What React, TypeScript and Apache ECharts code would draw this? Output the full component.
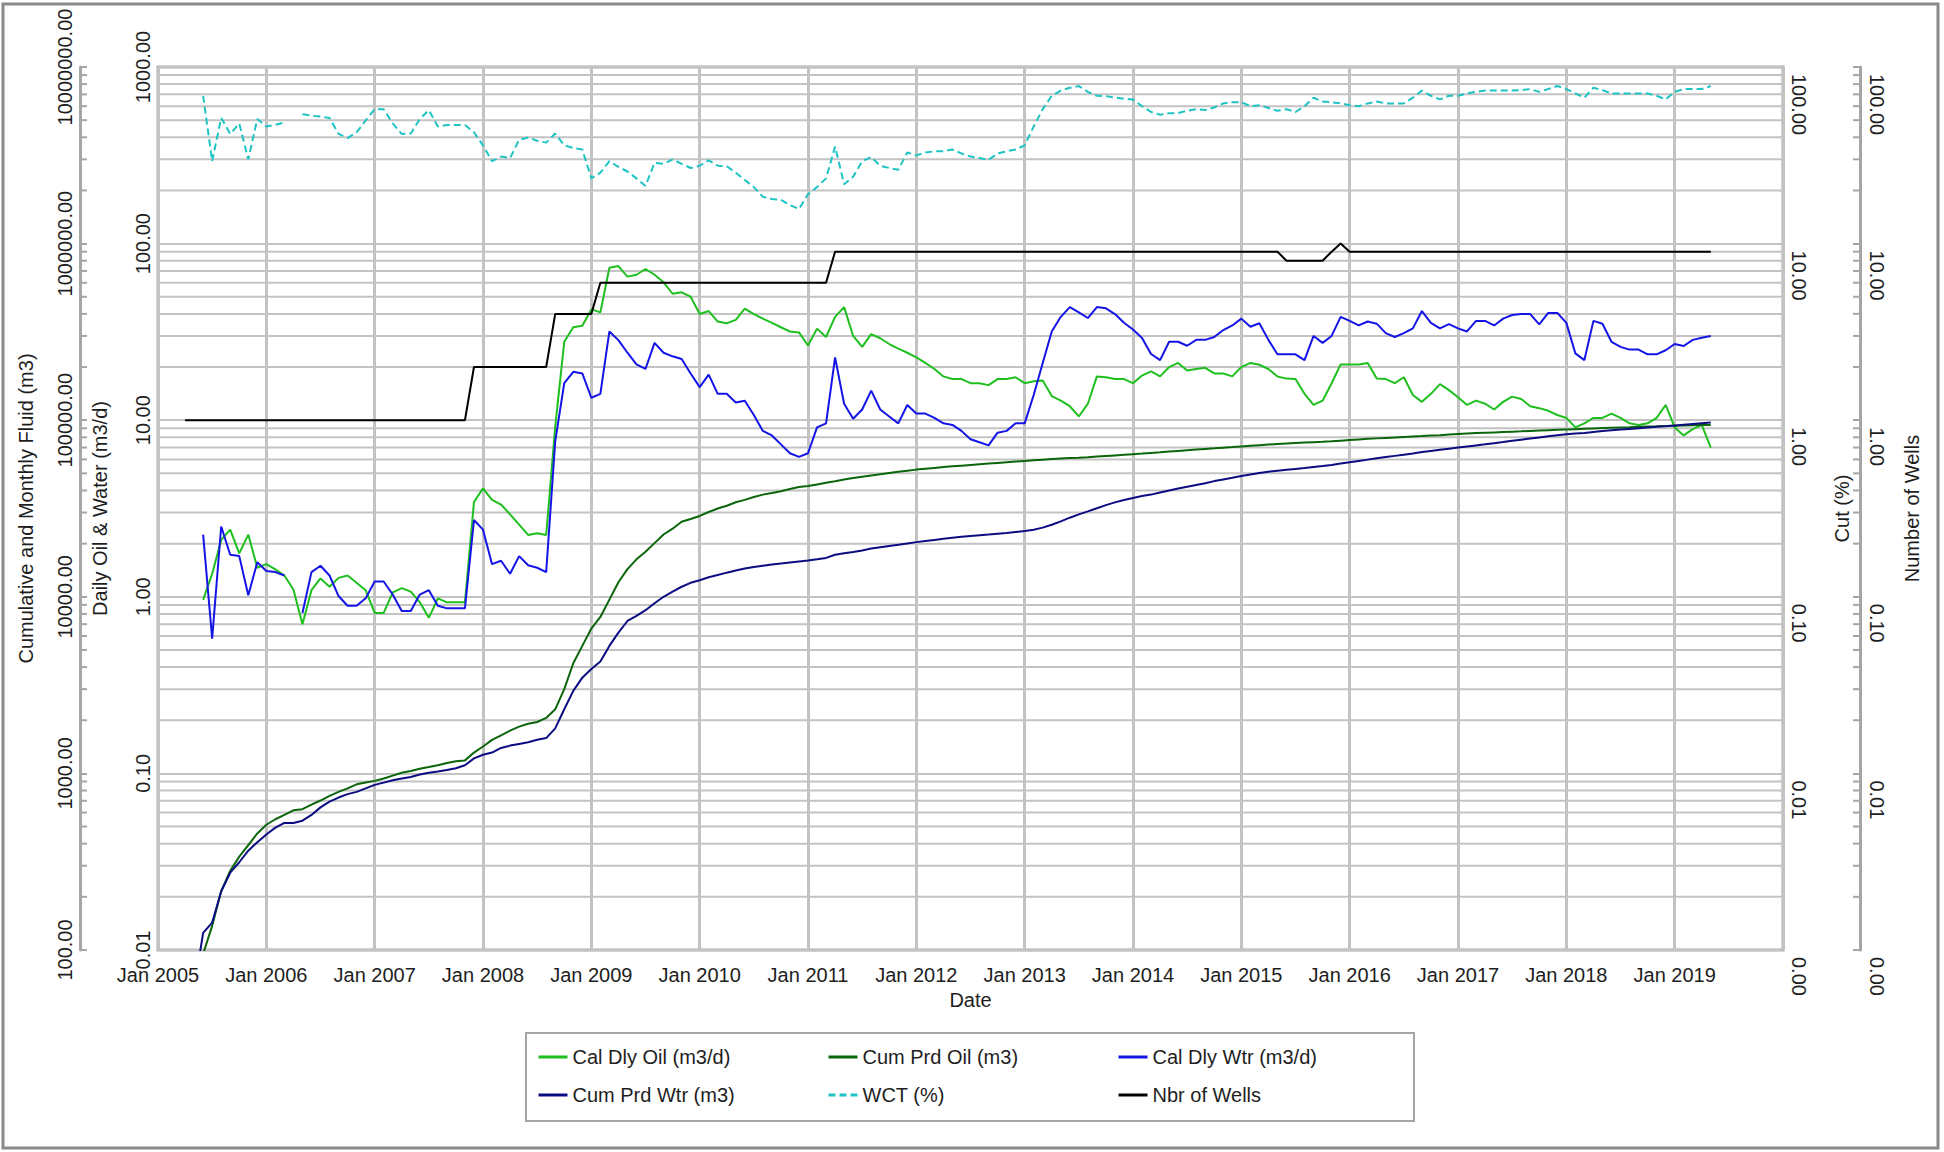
import React, { useEffect, useRef } from "react";
import * as echarts from "echarts";

// ---------- time base ----------
const BASE_YEAR = 2005; // x axis starts Jan 2005
const FIRST_MONTH = 4; // first monthly sample: May 2005 (months after Jan 2005)
const X_MIN = 2005;
const X_MAX = 2020;

// ---------- monthly data (May 2005 .. May 2019) ----------
const calDlyOil: (number | null)[] = [
  null, 0.96, 1.35, 2.1, 2.4, 1.76, 2.25, 1.46,
  1.53, 1.43, 1.32, 1.10, 0.70, 1.09, 1.27, 1.14, 1.28, 1.32, 1.20, 1.09,
  0.81, 0.81, 1.06, 1.12, 1.07, 0.93, 0.76, 0.98, 0.93, 0.93, 0.93, 3.44,
  4.11, 3.54, 3.33, 2.93, 2.56, 2.24, 2.29, 2.24, 9.2, 27.8, 33.6, 34.3,
  42.4, 40.8, 73, 74.6, 65, 66.6, 71.8, 66.6, 60.4, 52, 53, 50,
  39.9, 41.5, 36.2, 35.4, 37, 42.8, 39.9, 37.6, 35.6, 33.6, 31.8, 31.4,
  26.5, 33, 29.6, 38.5, 43.7, 30, 26, 30.7, 29.1, 27, 25.4, 24.1,
  22.7, 21.1, 19.5, 17.7, 17.1, 17.1, 16.2, 16.2, 15.8, 17.1, 17.1, 17.5,
  16.2, 16.6, 16.8, 13.7, 12.9, 12, 10.5, 12.4, 17.7, 17.5, 17.1, 17.1,
  16.2, 17.9, 18.9, 17.7, 20, 21.1, 19.1, 19.5, 19.8, 18.4, 18.4, 17.7,
  20, 21.1, 20.6, 19.5, 17.7, 17.2, 17.1, 14.1, 12.2, 12.9, 16.2, 20.7,
  20.7, 20.7, 21.1, 17.2, 17.1, 16.2, 17.5, 13.9, 12.7, 14.1, 16, 14.8,
  13.5, 12.2, 12.9, 12.4, 11.5, 12.7, 13.6, 13.2, 12, 11.7, 11.3, 10.7,
  10.3, 9.1, 9.6, 10.3, 10.3, 10.9, 10.3, 9.6, 9.4, 9.6, 10.3, 12.2,
  9.1, 8.2, 8.9, 9.4, 7,
];

const calDlyWtr: (number | null)[] = [
  null, 2.25, 0.58, 2.5, 1.73, 1.70, 1.02, 1.57,
  1.40, 1.38, 1.32, null, 0.81, 1.38, 1.50, 1.32, 1.01, 0.89, 0.89, 0.98,
  1.22, 1.22, 1.03, 0.83, 0.83, 1.03, 1.09, 0.89, 0.86, 0.86, 0.86, 2.72,
  2.4, 1.53, 1.6, 1.35, 1.7, 1.51, 1.46, 1.38, 7.6, 16.2, 18.8, 18.4,
  13.4, 14.1, 31.8, 28.4, 24.1, 20.7, 19.5, 27.4, 24.1, 23, 22.2, 18.4,
  15.4, 18.1, 14.1, 14.1, 12.6, 12.9, 10.7, 8.7, 8.2, 7.3, 6.5, 6.2,
  6.5, 9.1, 9.6, 22.7, 12.4, 10.2, 11.5, 14.7, 11.5, 10.5, 9.6, 12.2,
  10.9, 10.9, 10.3, 9.6, 9.4, 8.7, 7.8, 7.5, 7.2, 8.5, 8.7, 9.6,
  9.6, 13.9, 21.1, 31.8, 38.5, 43.7, 40.8, 37.9, 43.7, 43, 39.9, 35.6,
  32.6, 29.2, 23.7, 21.9, 27.8, 27.8, 26.4, 28.5, 28.5, 29.6, 32.4, 34.4,
  37.6, 33.8, 35.4, 28.5, 23.6, 23.6, 23.6, 21.9, 30, 27.4, 30, 38.5,
  36.5, 34.4, 36.2, 35.2, 31.1, 29.6, 31.1, 33.1, 41.5, 35.6, 33.1, 35,
  33.1, 31.8, 36.5, 36.5, 34.4, 37.6, 39.4, 39.9, 39.9, 34.9, 40.5, 40.5,
  35.6, 23.9, 21.9, 36.5, 35.2, 27.8, 26, 25.1, 25.1, 23.6, 23.6, 24.9,
  27, 26.3, 28.5, 29.3, 30,
];

const wct: (number | null)[] = [
  null, 68.7, 29.3, 51.5, 41.8, 47.9, 30, 50.8,
  46, 47, 48.5, null, 54, 53, 52.4, 51.5, 41.8, 39.6, 42.7, 49.7,
  57.7, 57.7, 47.9, 41.8, 42, 50.8, 57, 46, 47, 47, 47, 42.7,
  36, 29.3, 31.1, 30.5, 38.7, 39.9, 38.2, 37.3, 42, 36, 34.8, 34.1,
  23.4, 25.2, 29.3, 27.2, 25.6, 23.4, 21.2, 28.7, 28.3, 30, 28.3, 26.8,
  27.6, 29.6, 27.6, 27.4, 25.2, 22.9, 20.9, 18.4, 17.9, 17.7, 16.5, 15.7,
  19, 20.9, 23.4, 35.4, 21.7, 23.9, 29.3, 30.9, 27.6, 26.8, 26.2, 32.8,
  31.6, 32.8, 33.3, 33.3, 34.1, 32.4, 31.1, 30.5, 29.8, 32.4, 33.3, 34.1,
  36, 46, 57.7, 68.7, 73.5, 76.3, 78, 72.3, 68.7, 68.4, 67.1, 66.1,
  65.4, 60, 55.6, 53.7, 54.8, 54.8, 56.5, 57.7, 57, 59, 62.2, 63.2,
  63.2, 60, 60.8, 58.6, 56.5, 57.7, 55.6, 60, 67.1, 63.7, 63.2, 62.2,
  60.8, 60, 62.2, 63.7, 62.2, 62.2, 62.2, 67.1, 73.5, 68.7, 65.6, 68.7,
  68.7, 70.8, 72.3, 73.5, 73.5, 73.5, 73.5, 74, 75, 72.3, 75, 78,
  75, 70.8, 67.1, 76.3, 74, 70.8, 70.8, 70.8, 70.8, 70.8, 68.7, 65.6,
  72.3, 75, 75, 75, 78,
];

const cumPrdOil: (number | null)[] = [
  null, 95, 137, 215, 281, 338, 393, 457,
  512, 550, 582, 618, 627, 666, 702, 746, 786, 822, 867, 887,
  907, 935, 971, 1008, 1031, 1062, 1086, 1111, 1145, 1172, 1185, 1312,
  1420, 1549, 1644, 1746, 1841, 1910, 1955, 2061, 2307, 3000, 4207, 5272,
  6607, 7691, 9634, 12080, 14350, 16300, 17990, 20140, 22540, 24300, 26600, 27600,
  28700, 30200, 31600, 32800, 34300, 35400, 36700, 37900, 38700, 39600, 40800, 41800,
  42400, 43300, 44200, 45100, 46100, 47000, 47800, 48600, 49400, 50200, 51000, 51800,
  52500, 53100, 53700, 54300, 54800, 55300, 55800, 56300, 56800, 57300, 57800, 58300,
  58800, 59300, 59800, 60200, 60600, 61000, 61300, 61700, 62200, 62700, 63200, 63700,
  64200, 64700, 65300, 65800, 66400, 67000, 67600, 68200, 68800, 69300, 69900, 70400,
  71000, 71600, 72200, 72800, 73300, 73800, 74300, 74700, 75100, 75500, 76000, 76600,
  77200, 77800, 78400, 78900, 79400, 79900, 80400, 80900, 81300, 81800, 82300, 82900,
  83500, 84000, 84500, 84900, 85300, 85700, 86100, 86500, 87000, 87400, 87800, 88200,
  88600, 89000, 89400, 89800, 90200, 90600, 91000, 91300, 91700, 92000, 92300, 92700,
  93000, 93300, 93500, 93800, 94000,
];

const cumPrdWtr: (number | null)[] = [
  60, 125, 143, 215, 274, 314, 365, 408,
  451, 493, 524, 524, 540, 582, 642, 692, 730, 763, 786, 822,
  861, 887, 914, 935, 955, 985, 1008, 1024, 1046, 1070, 1111, 1216,
  1275, 1312, 1393, 1437, 1469, 1501, 1549, 1585, 1799, 2307, 2931, 3484,
  3905, 4306, 5272, 6266, 7295, 7800, 8400, 9200, 10000, 10700, 11400, 12000,
  12400, 12900, 13300, 13700, 14100, 14450, 14750, 15000, 15250, 15450, 15650, 15850,
  16050, 16300, 16600, 17300, 17650, 17950, 18300, 18750, 19100, 19400, 19700, 20050,
  20400, 20700, 21000, 21300, 21600, 21850, 22100, 22300, 22500, 22750, 23000, 23300,
  23600, 24000, 24650, 25600, 26750, 28050, 29300, 30450, 31750, 33050, 34250, 35300,
  36300, 37200, 37900, 39000, 40000, 41000, 42000, 43000, 44000, 45200, 46200, 47200,
  48300, 49300, 50300, 51100, 51800, 52400, 53000, 53600, 54300, 55000, 55800, 56800,
  57800, 58800, 59800, 60800, 61800, 62800, 63800, 64800, 66000, 67000, 68000, 69000,
  70000, 71000, 72000, 73000, 74100, 75200, 76400, 77600, 78800, 79900, 81000, 82100,
  83200, 84000, 84700, 85800, 86800, 87700, 88500, 89300, 90100, 90900, 91700, 92500,
  93400, 94300, 95200, 96100, 97000,
];

// Number of wells: change points (months after Jan 2005, count)
const wellMonths = [3, 34, 35, 43, 44, 48, 49, 74, 75, 124, 125, 129, 130, 131, 132, 172];
const wellCounts = [1, 1, 2, 2, 4, 4, 6, 6, 9, 9, 8, 8, 9, 10, 9, 9];

// ---------- axes ----------
const DAILY_RANGE = [0.01, 1000];
const CUM_RANGE = [100, 10000000];
const CUT_RANGE = [0.001, 100];
const WELL_RANGE = [0.001, 100];
const MINOR_DECADES = [0.01, 0.1, 1, 10, 100];
const MINOR_MULTS = [2, 3, 4, 5, 6, 7, 8, 9];

const NAMES = {
  oil: "Cal Dly Oil (m3/d)",
  cumOil: "Cum Prd Oil (m3)",
  wtr: "Cal Dly Wtr (m3/d)",
  cumWtr: "Cum Prd Wtr (m3)",
  wct: "WCT (%)",
  wells: "Nbr of Wells",
};

const FONT = "'Liberation Sans', Arial, Helvetica, sans-serif";
const TXT = "#1e1e1e";
const GRID_C = "#c3c3c3";
const AXIS_C = "#a6a6a6";

const GRID_LEFT = 158;
const GRID_TOP = 67;
const GRID_W = 1625;
const GRID_H = 883;
const CUM_OFFSET = 78;
const WELL_OFFSET = 77;

const monthX = (m: number) => BASE_YEAR + m / 12;
const toPairs = (arr: (number | null)[]) =>
  arr.map((v, i) => [monthX(FIRST_MONTH + i), v]);

export default function App() {
  const ref = useRef<HTMLDivElement>(null);

  useEffect(() => {
    if (!ref.current) return;
    const chart = echarts.init(ref.current, undefined, { renderer: "svg" });

    const minorValues: number[] = [];
    MINOR_DECADES.forEach((d) => MINOR_MULTS.forEach((k) => minorValues.push(+(k * d).toPrecision(6))));

    const fmt = (v: number) => Number(v).toFixed(2);
    const labelBase = { fontFamily: FONT, fontSize: 20, color: TXT };
    const nameBase = { fontFamily: FONT, fontSize: 20, color: TXT };

    const lineSeries = (name: string, data: any[], yAxisIndex: number, color: string, extra: any = {}) => ({
      name,
      type: "line",
      data,
      yAxisIndex,
      xAxisIndex: 0,
      symbol: "none",
      showSymbol: false,
      connectNulls: false,
      clip: true,
      z: 5,
      lineStyle: { color, width: 2, ...(extra.lineStyle || {}) },
      itemStyle: { color },
    });

    const legendPos = [
      { name: NAMES.oil, left: 537, top: 1047 },
      { name: NAMES.cumOil, left: 827, top: 1047 },
      { name: NAMES.wtr, left: 1117, top: 1047 },
      { name: NAMES.cumWtr, left: 537, top: 1085 },
      { name: NAMES.wct, left: 827, top: 1085 },
      { name: NAMES.wells, left: 1117, top: 1085 },
    ];

    const option: any = {
      animation: false,
      backgroundColor: "#ffffff",
      textStyle: { fontFamily: FONT },
      grid: {
        left: GRID_LEFT,
        top: GRID_TOP,
        width: GRID_W,
        height: GRID_H,
        show: true,
        borderColor: AXIS_C,
        borderWidth: 3,
        backgroundColor: "transparent",
      },
      legend: legendPos.map((l) => ({
        data: [l.name],
        left: l.left,
        top: l.top,
        padding: 0,
        itemWidth: 29,
        itemHeight: 14,
        itemGap: 0,
        selectedMode: false,
        textStyle: { ...labelBase },
        lineStyle: { width: 3 },
        itemStyle: { opacity: 0 },
      })),
      xAxis: {
        type: "value",
        min: X_MIN,
        max: X_MAX,
        interval: 1,
        name: "Date",
        nameLocation: "middle",
        nameGap: 38,
        nameTextStyle: nameBase,
        axisLine: { show: false },
        axisTick: { show: false },
        axisLabel: {
          ...labelBase,
          margin: 15,
          showMaxLabel: false,
          formatter: (v: number) => (v >= X_MAX ? "" : "Jan " + Math.round(v)),
        },
        splitLine: { show: true, lineStyle: { color: GRID_C, width: 3 } },
      },
      yAxis: [
        {
          type: "log",
          logBase: 10,
          min: DAILY_RANGE[0],
          max: DAILY_RANGE[1],
          position: "left",
          name: "Daily Oil & Water (m3/d)",
          nameLocation: "middle",
          nameGap: 48,
          nameTextStyle: nameBase,
          axisLine: { show: false },
          axisTick: { show: false },
          axisLabel: { ...labelBase, rotate: 90, margin: 5, formatter: fmt },
          splitLine: { show: true, lineStyle: { color: GRID_C, width: 2 } },
        },
        {
          type: "log",
          logBase: 10,
          min: CUM_RANGE[0],
          max: CUM_RANGE[1],
          position: "left",
          offset: CUM_OFFSET,
          name: "Cumulative and Monthly Fluid (m3)",
          nameLocation: "middle",
          nameGap: 44,
          nameTextStyle: nameBase,
          axisLine: { show: true, lineStyle: { color: AXIS_C, width: 3 } },
          axisTick: { show: true, inside: true, length: 7, lineStyle: { color: AXIS_C, width: 2 } },
          axisLabel: { ...labelBase, rotate: 90, margin: 5, formatter: fmt },
          splitLine: { show: false },
        },
        {
          type: "log",
          logBase: 10,
          min: CUT_RANGE[0],
          max: CUT_RANGE[1],
          position: "right",
          name: "Cut (%)",
          nameLocation: "middle",
          nameGap: 49,
          nameTextStyle: nameBase,
          axisLine: { show: false },
          axisTick: { show: false },
          axisLabel: {
            ...labelBase,
            rotate: -90,
            margin: 16,
            align: "left",
            verticalAlign: "middle",
            padding: [0, 0, 0, 7],
            formatter: fmt,
          },
          splitLine: { show: false },
        },
        {
          type: "log",
          logBase: 10,
          min: WELL_RANGE[0],
          max: WELL_RANGE[1],
          position: "right",
          offset: WELL_OFFSET,
          name: "Number of Wells",
          nameLocation: "middle",
          nameGap: 42,
          nameTextStyle: nameBase,
          axisLine: { show: true, lineStyle: { color: AXIS_C, width: 3 } },
          axisTick: { show: true, inside: true, length: 7, lineStyle: { color: AXIS_C, width: 2 } },
          axisLabel: {
            ...labelBase,
            rotate: -90,
            margin: 17,
            align: "left",
            verticalAlign: "middle",
            padding: [0, 0, 0, 7],
            formatter: fmt,
          },
          splitLine: { show: false },
        },
      ],
      graphic: [
        {
          type: "rect",
          shape: { x: 3, y: 4, width: 1935, height: 1144 },
          style: { fill: "none", stroke: "#8a8a8a", lineWidth: 3 },
          silent: true,
          z: 0,
        },
        {
          type: "rect",
          shape: { x: 526, y: 1033, width: 888, height: 88 },
          style: { fill: "none", stroke: "#a6a6a6", lineWidth: 2 },
          silent: true,
          z: 0,
        },
      ],
      series: [
        {
          type: "custom",
          name: "minor-grid",
          xAxisIndex: 0,
          yAxisIndex: 0,
          silent: true,
          clip: false,
          z: 1,
          data: minorValues.map((v) => [X_MIN, v]),
          renderItem: (params: any, api: any) => {
            const v = api.value(1);
            const y = api.coord([X_MIN, v])[1];
            const cs = params.coordSys;
            const cumX = cs.x - CUM_OFFSET;
            const wellX = cs.x + cs.width + WELL_OFFSET;
            return {
              type: "group",
              children: [
                {
                  type: "line",
                  shape: { x1: cs.x, y1: y, x2: cs.x + cs.width, y2: y },
                  style: { stroke: GRID_C, lineWidth: 2 },
                },
                {
                  type: "line",
                  shape: { x1: cumX, y1: y, x2: cumX + 7, y2: y },
                  style: { stroke: AXIS_C, lineWidth: 2 },
                },
                {
                  type: "line",
                  shape: { x1: wellX - 7, y1: y, x2: wellX, y2: y },
                  style: { stroke: AXIS_C, lineWidth: 2 },
                },
              ],
            };
          },
        },
        lineSeries(NAMES.oil, toPairs(calDlyOil), 0, "#1fbf1f"),
        lineSeries(NAMES.cumOil, toPairs(cumPrdOil), 1, "#0b650b"),
        lineSeries(NAMES.wtr, toPairs(calDlyWtr), 0, "#1414e6"),
        lineSeries(NAMES.cumWtr, toPairs(cumPrdWtr), 1, "#0c0c82"),
        lineSeries(NAMES.wct, toPairs(wct), 2, "#1fc3c3", { lineStyle: { type: [7, 4] } }),
        lineSeries(
          NAMES.wells,
          wellMonths.map((m, i) => [monthX(m), wellCounts[i]]),
          3,
          "#000000"
        ),
      ],
    };

    chart.setOption(option);
    return () => chart.dispose();
  }, []);

  return (
    <div
      ref={ref}
      style={{ position: "fixed", left: 0, top: 0, width: 1944, height: 1152, background: "#fff" }}
    />
  );
}
